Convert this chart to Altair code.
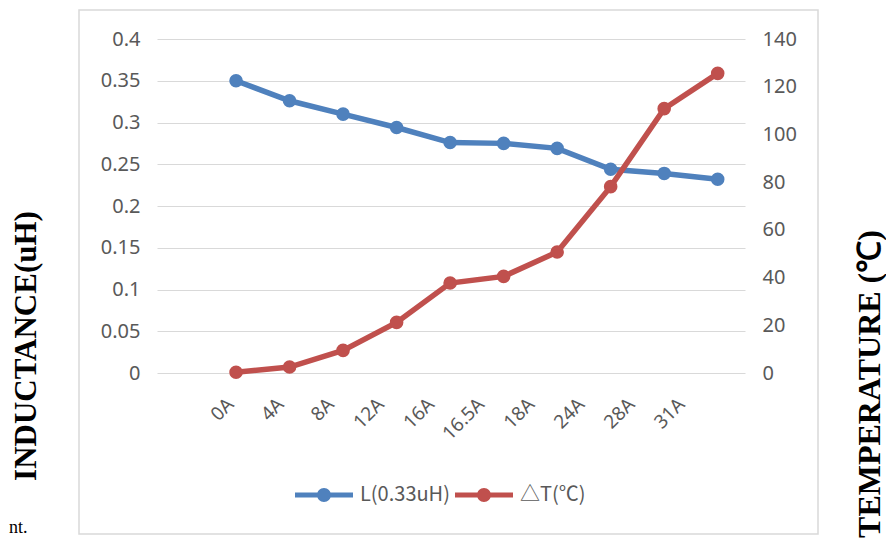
import altair as alt
import pandas as pd

# ---- data ----
currents = ["0A", "4A", "8A", "12A", "16A", "16.5A", "18A", "24A", "28A", "31A"]
inductance = [0.350, 0.326, 0.310, 0.294, 0.276, 0.275, 0.269, 0.244, 0.239, 0.232]
temp_rise = [0.3, 2.5, 9.5, 21.2, 37.7, 40.5, 50.7, 78.1, 110.8, 125.6]
series_names = ["L(0.33uH)", "△T(℃)"]
series_colors = ["#4F81BD", "#C0504D"]
left_ticks = [0, 0.05, 0.1, 0.15, 0.2, 0.25, 0.3, 0.35, 0.4]
right_ticks = [0, 20, 40, 60, 80, 100, 120, 140]
left_title = "INDUCTANCE(uH)"
right_title = "TEMPERATURE (℃)"
footnote = "nt."

df = pd.DataFrame({
    "idx": list(range(len(currents))),
    "current": currents,
    "L": inductance,
    "T": temp_rise,
    "sL": [series_names[0]] * len(currents),
    "sT": [series_names[1]] * len(currents),
})
one = pd.DataFrame({"a": [0]})

FONT = "Noto Sans"
LBL = "#595959"
label_expr = "[" + ",".join("'%s'" % c for c in currents) + "][datum.value]"

x_enc = alt.X(
    "idx:Q",
    scale=alt.Scale(domain=[-1.477, 9.51], nice=False, zero=False),
    axis=alt.Axis(
        values=list(range(len(currents))), labelExpr=label_expr, grid=False,
        domain=False, ticks=False, labelAngle=-45, labelAlign="right",
        labelBaseline="middle", labelPadding=28,
        labelOffset={"expr": "-(6 + 3.4*datum.value)"},
        labelFont=FONT, labelFontSize=19, labelColor=LBL, title=None,
    ),
)

color_scale = alt.Scale(domain=series_names, range=series_colors)

left_axis = alt.Axis(values=left_ticks, format=".2~f", grid=True, gridColor="#d9d9d9",
                     gridWidth=1.2, domain=False, ticks=False, labelPadding=17,
                     labelFont=FONT, labelFontSize=20, labelColor=LBL, title=None)
right_axis = alt.Axis(values=right_ticks, orient="right", grid=False, domain=False,
                      ticks=False, labelPadding=17, labelFont=FONT, labelFontSize=20,
                      labelColor=LBL, title=None)

yL = alt.Y("L:Q", scale=alt.Scale(domain=[0, 0.4], nice=False), axis=left_axis)
yT = alt.Y("T:Q", scale=alt.Scale(domain=[0, 140], nice=False), axis=right_axis)

legend_path = ("M-1,-0.085L1,-0.085L1,0.085L-1,0.085Z "
               "M-0.24,0A0.24,0.24 0 1,1 0.24,0A0.24,0.24 0 1,1 -0.24,0Z")

base = alt.Chart(df)
ptL = base.mark_circle(size=185, opacity=1).encode(
    x=x_enc, y=yL,
    color=alt.Color("sL:N", scale=color_scale, legend=alt.Legend(title=None)),
)
lineL = base.mark_line(color=series_colors[0], strokeWidth=5.5).encode(x=x_enc, y=yL)
ptT = base.mark_circle(size=185, opacity=1).encode(
    x=x_enc, y=yT,
    color=alt.Color("sT:N", scale=color_scale, legend=alt.Legend(title=None)),
)
lineT = base.mark_line(color=series_colors[1], strokeWidth=5.5).encode(x=x_enc, y=yT)

border = alt.Chart(one).mark_rect(filled=False, stroke="#d9d9d9", strokeWidth=1.5).encode(
    x=alt.value(-78), x2=alt.value(661), y=alt.value(-29), y2=alt.value(495)
)
t_left = alt.Chart(one).mark_text(
    text=left_title, angle=270, font="Liberation Serif", fontWeight="bold",
    fontSize=31, color="black", align="center", baseline="middle"
).encode(x=alt.value(-130), y=alt.value(307))
t_right = alt.Chart(one).mark_text(
    text=right_title, angle=270, font="Liberation Serif", fontWeight="bold",
    fontSize=32, color="black", align="center", baseline="middle"
).encode(x=alt.value(713), y=alt.value(345))
t_note = alt.Chart(one).mark_text(
    text=footnote, font="Liberation Serif", fontSize=18, color="black",
    align="left", baseline="alphabetic"
).encode(x=alt.value(-148), y=alt.value(494))

series = alt.layer(
    alt.layer(lineL, ptL),
    alt.layer(lineT, ptT),
).resolve_scale(y="independent")

chart = alt.layer(border, t_left, t_right, t_note, series).properties(
    width=588, height=334,
    padding={"left": 149, "top": 31, "right": 141, "bottom": 168},
    autosize=alt.AutoSizeParams(type="none"),
).configure_view(stroke=None).configure_legend(
    orient="none", legendX=138, legendY=427, direction="horizontal",
    symbolType=legend_path, symbolSize=3364, symbolStrokeWidth=0,
    labelFont="Noto Sans CJK SC", labelFontSize=20, labelColor=LBL, labelOffset=7,
    columnPadding=5, padding=0,
)

chart.save("out.html", embed_options={"renderer": "svg", "actions": False})
